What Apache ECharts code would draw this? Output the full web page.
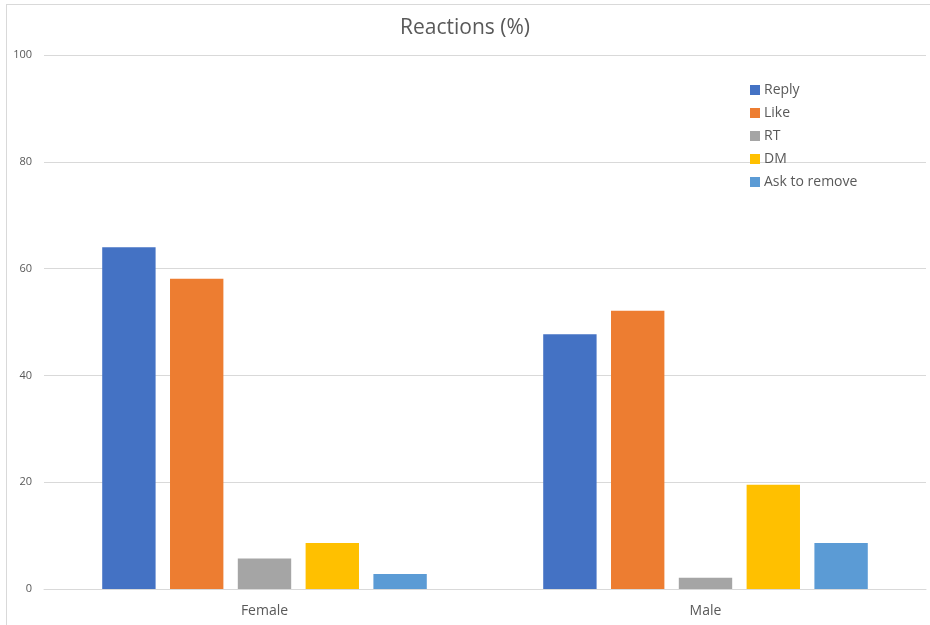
<!DOCTYPE html>
<html>
<head>
<meta charset="utf-8">
<script src="https://cdn.jsdelivr.net/npm/echarts@6/dist/echarts.min.js"></script>
<style>
  html, body { margin: 0; padding: 0; background: #ffffff; }
  #wrap { position: relative; width: 930px; height: 625px; overflow: hidden; }
  #chart { position: absolute; left: 0; top: 0; width: 930px; height: 625px; }
  #frame { position: absolute; left: 6px; top: 4px; width: 940px; height: 640px;
           border: 1px solid #d9d9d9; pointer-events: none; box-sizing: border-box; }
</style>
</head>
<body>
<div id="wrap">
  <div id="chart"></div>
  <div id="frame"></div>
</div>
<script>
// Reaction shares (%) by gender
const categories = ['Female', 'Male'];
const seriesNames = ['Reply', 'Like', 'RT', 'DM', 'Ask to remove'];
const reply = [64.0, 47.7];
const like = [58.1, 52.1];
const rt = [5.7, 2.1];
const dm = [8.6, 19.5];
const askToRemove = [2.8, 8.6];
const colors = ['#4472C4', '#ED7D31', '#A5A5A5', '#FFC000', '#5B9BD5'];

const values = [reply, like, rt, dm, askToRemove];
const FONT = '"Open Sans", "Liberation Sans", sans-serif';
const TEXT = '#595959';

const chart = echarts.init(document.getElementById('chart'), null, { renderer: 'canvas' });
chart.setOption({
  animation: false,
  color: colors,
  title: {
    text: 'Reactions (%)',
    left: 'center',
    top: 13,
    textStyle: { fontFamily: FONT, fontSize: 21, fontWeight: 'normal', color: TEXT }
  },
  legend: {
    orient: 'vertical',
    left: 745,
    top: 78,
    itemWidth: 10,
    itemHeight: 10,
    itemGap: 9,
    icon: 'rect',
    textStyle: { fontFamily: FONT, fontSize: 14, color: TEXT, lineHeight: 14, padding: [0, 0, 0, -1] },
    data: seriesNames
  },
  grid: { left: 44, right: 4, top: 55, bottom: 36, containLabel: false },
  xAxis: {
    type: 'category',
    data: categories,
    axisLine: { lineStyle: { color: '#d9d9d9', width: 1 } },
    axisTick: { show: false },
    axisLabel: { fontFamily: FONT, fontSize: 14, color: TEXT, margin: 15 }
  },
  yAxis: {
    type: 'value',
    min: 0,
    max: 100,
    interval: 20,
    axisLine: { show: false },
    axisTick: { show: false },
    splitLine: { lineStyle: { color: '#d9d9d9', width: 1 } },
    axisLabel: { fontFamily: FONT, fontSize: 11, color: TEXT, margin: 12 }
  },
  series: seriesNames.map((name, i) => ({
    name: name,
    type: 'bar',
    data: values[i],
    barGap: '27%',
    barCategoryGap: '26.4%',
    itemStyle: { color: colors[i] }
  }))
});
</script>
</body>
</html>
